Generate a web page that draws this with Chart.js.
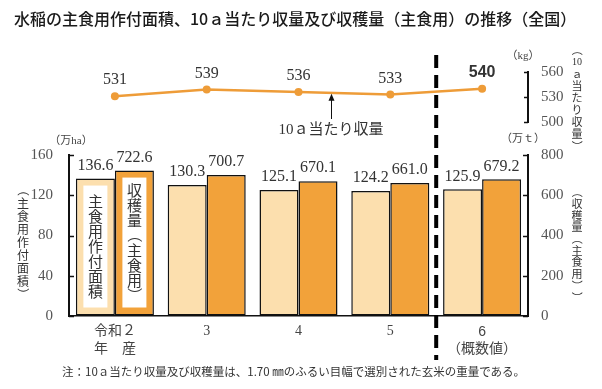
<!DOCTYPE html>
<html lang="ja">
<head>
    <meta charset="UTF-8">
    <title>水稲の主食用作付面積、10ａ当たり収量及び収穫量（主食用）の推移（全国）</title>
    <script src="https://cdn.jsdelivr.net/npm/chart.js"></script>
    <style>
        body { margin: 0; background: #fff; }
        .wrap { position: relative; width: 602px; height: 389px; overflow: hidden; }
        .wrap canvas { position: absolute; left: 0; top: 0; }
        #lineChart { pointer-events: none; }
        h1 {
            position: absolute; left: 14px; top: 6px; margin: 0;
            font: 500 16px "Noto Sans CJK JP"; color: #1a1a1a; white-space: nowrap;
        }
        .note {
            position: absolute; left: 62px; top: 363px;
            font: 11.5px "Noto Sans CJK JP"; color: #333; white-space: nowrap;
        }
    </style>
</head>
<body>
    <div class="wrap">
        <canvas id="barChart" width="602" height="389"></canvas>
        <canvas id="lineChart" width="602" height="389"></canvas>
        <h1>水稲の主食用作付面積、10ａ当たり収量及び収穫量（主食用）の推移（全国）</h1>
        <div class="note">注：10ａ当たり収量及び収穫量は、1.70 ㎜のふるい目幅で選別された玄米の重量である。</div>
    </div>

    <script>
        // data
        const categories = [['令和２', '年　産'], '3', '4', '5', ['6', '（概数値）']];
        const areaValues = [136.6, 130.3, 125.1, 124.2, 125.9];      // 万ha
        const harvestValues = [722.6, 700.7, 670.1, 661.0, 679.2];   // 万t
        const yieldValues = [531, 539, 536, 533, 540];               // kg
        const areaTicks = [0, 40, 80, 120, 160];
        const harvestTicks = [0, 200, 400, 600, 800];
        const yieldTicks = [500, 530, 560];

        const SERIF = '"Liberation Serif", "DejaVu Serif", "Noto Sans CJK JP", serif';
        const SANS = '"Liberation Sans", "Noto Sans CJK JP", sans-serif';
        const JP = '"Noto Sans CJK JP"';

        // draw upright vertical text, one cell per item; '(' and ')' are turned
        function drawVertical(ctx, items, x, yStart, step, size, color) {
            ctx.save();
            ctx.fillStyle = color;
            ctx.textAlign = 'center';
            ctx.textBaseline = 'middle';
            items.forEach((s, i) => {
                const y = yStart + i * step;
                if (s === '(' || s === ')') {
                    ctx.save();
                    ctx.translate(x, y);
                    ctx.rotate(Math.PI / 2);
                    ctx.font = size + 'px ' + JP;
                    ctx.fillText(s === '(' ? '（' : '）', 0, 0);
                    ctx.restore();
                    return;
                }
                ctx.font = /^[0-9]+$/.test(s) ? (size - 1) + 'px ' + SERIF : size + 'px ' + JP;
                ctx.fillText(s, x, y);
            });
            ctx.restore();
        }

        function inwardTicks(ctx, scale, x, dir, len) {
            ctx.save();
            ctx.strokeStyle = '#111';
            ctx.lineWidth = 1.5;
            scale.ticks.forEach(t => {
                const py = Math.round(scale.getPixelForValue(t.value)) + 0.5;
                ctx.beginPath();
                ctx.moveTo(x, py);
                ctx.lineTo(x + dir * len, py);
                ctx.stroke();
            });
            ctx.restore();
        }

        const barDecor = {
            id: 'barDecor',
            afterDraw(chart) {
                const ctx = chart.ctx;
                const area = chart.chartArea;

                inwardTicks(ctx, chart.scales.y, area.left, 1, 5);
                inwardTicks(ctx, chart.scales.y2, area.right, -1, 5);

                // white boxes with labels inside the first group
                const boxTexts = [
                    ['主', '食', '用', '作', '付', '面', '積'],
                    ['収', '穫', '量', '(', '主', '食', '用', ')']
                ];
                [0, 1].forEach(di => {
                    const bar = chart.getDatasetMeta(di).data[0];
                    const top = bar.y + 7;
                    const bottom = bar.base - 8;
                    ctx.fillStyle = '#ffffff';
                    ctx.fillRect(bar.x - 12, top, 24, bottom - top);
                    const items = boxTexts[di];
                    const step = 15;
                    const mid = (top + bottom) / 2;
                    drawVertical(ctx, items, bar.x, mid - (items.length - 1) * step / 2, step, 15, '#333');
                });

                // value labels above bars
                ctx.save();
                ctx.font = '16px ' + SERIF;
                ctx.fillStyle = '#333';
                ctx.textAlign = 'center';
                ctx.textBaseline = 'middle';
                chart.data.datasets.forEach((ds, di) => {
                    chart.getDatasetMeta(di).data.forEach((bar, i) => {
                        ctx.fillText(ds.data[i].toFixed(1), bar.x, bar.y - 13);
                    });
                });
                ctx.restore();

                // units
                ctx.save();
                ctx.font = '11px ' + SERIF;
                ctx.fillStyle = '#444';
                ctx.textAlign = 'center';
                ctx.textBaseline = 'middle';
                ctx.fillText('（万ha）', area.left + 2, 141);
                ctx.fillText('（万ｔ）', area.right - 5, 139);
                ctx.restore();

                // axis titles (vertical)
                drawVertical(ctx, ['(', '主', '食', '用', '作', '付', '面', '積', ')'], 23, 190, 13, 12, '#333');
                drawVertical(ctx, ['(', '収', '穫', '量', '(', '主', '食', '用', ')', ')'], 577, 192, 11.7, 11, '#333');

                // dashed separator before the preliminary year
                const xs = chart.scales.x;
                const sepX = (xs.getPixelForValue(3) + xs.getPixelForValue(4)) / 2;
                ctx.save();
                ctx.strokeStyle = '#000';
                ctx.lineWidth = 4;
                ctx.setLineDash([13, 7]);
                ctx.beginPath();
                ctx.moveTo(sepX, 55);
                ctx.lineTo(sepX, 360);
                ctx.stroke();
                ctx.restore();
            }
        };

        const lineDecor = {
            id: 'lineDecor',
            afterDraw(chart) {
                const ctx = chart.ctx;
                const area = chart.chartArea;
                inwardTicks(ctx, chart.scales.y, area.right, -1, 4);

                // point labels
                const pts = chart.getDatasetMeta(0).data;
                ctx.save();
                ctx.fillStyle = '#333';
                ctx.textAlign = 'center';
                ctx.textBaseline = 'middle';
                pts.forEach((p, i) => {
                    ctx.font = i === pts.length - 1 ? 'bold 16px ' + SANS : '16px ' + SERIF;
                    ctx.fillText(String(yieldValues[i]), p.x, p.y - 16);
                });

                // callout arrow
                const ax = 331;
                const ay = chart.scales.y.getPixelForValue(535);
                ctx.strokeStyle = '#111';
                ctx.fillStyle = '#111';
                ctx.lineWidth = 1;
                ctx.beginPath();
                ctx.moveTo(ax + 0.5, 119);
                ctx.lineTo(ax + 0.5, ay + 6);
                ctx.stroke();
                ctx.beginPath();
                ctx.moveTo(ax + 0.5, ay + 1);
                ctx.lineTo(ax - 2.5, ay + 8);
                ctx.lineTo(ax + 3.5, ay + 8);
                ctx.closePath();
                ctx.fill();
                ctx.fillStyle = '#333';
                ctx.font = '15px ' + SERIF;
                ctx.fillText('10ａ当たり収量', ax, 130);

                // unit
                ctx.font = '11px ' + SERIF;
                ctx.fillStyle = '#444';
                ctx.fillText('（kg）', area.right - 5, 56);
                ctx.restore();

                drawVertical(ctx, ['(', '10', 'ａ', '当', 'た', 'り', '収', '量', ')'], 577, 50, 12, 11, '#333');
            }
        };

        new Chart(document.getElementById('barChart'), {
            type: 'bar',
            data: {
                labels: categories,
                datasets: [
                    {
                        label: '主食用作付面積',
                        data: areaValues,
                        yAxisID: 'y',
                        backgroundColor: '#FCDFAE',
                        borderColor: '#111',
                        borderWidth: 1.5,
                        borderSkipped: false
                    },
                    {
                        label: '収穫量（主食用）',
                        data: harvestValues,
                        yAxisID: 'y2',
                        backgroundColor: '#F2A23A',
                        borderColor: '#111',
                        borderWidth: 1.5,
                        borderSkipped: false
                    }
                ]
            },
            options: {
                responsive: false,
                animation: false,
                devicePixelRatio: 1,
                layout: { padding: { top: 155, left: 0, right: 0, bottom: 0 } },
                categoryPercentage: 0.85,
                barPercentage: 1.0,
                plugins: { legend: { display: false }, tooltip: { enabled: false } },
                scales: {
                    x: {
                        afterFit: s => { s.height = 73; },
                        grid: { drawOnChartArea: false, drawTicks: false },
                        border: { color: '#111', width: 1.5 },
                        ticks: {
                            padding: 7,
                            color: '#444',
                            maxRotation: 0,
                            autoSkip: false,
                            font: c => ({
                                family: c.index === 4 ? SANS : SERIF,
                                size: 14,
                                lineHeight: 1.25
                            })
                        }
                    },
                    y: {
                        position: 'left',
                        min: 0,
                        max: 160,
                        afterFit: s => { s.width = 69; },
                        afterBuildTicks: s => { s.ticks = areaTicks.map(v => ({ value: v })); },
                        grid: { drawOnChartArea: false, drawTicks: false },
                        border: { color: '#111', width: 2 },
                        ticks: { padding: 16, color: '#555', font: { family: SERIF, size: 15 } }
                    },
                    y2: {
                        position: 'right',
                        min: 0,
                        max: 800,
                        afterFit: s => { s.width = 74; },
                        afterBuildTicks: s => { s.ticks = harvestTicks.map(v => ({ value: v })); },
                        grid: { drawOnChartArea: false, drawTicks: false },
                        border: { color: '#111', width: 2 },
                        ticks: { padding: 13, color: '#555', font: { family: SERIF, size: 15 } }
                    }
                }
            },
            plugins: [barDecor]
        });

        new Chart(document.getElementById('lineChart'), {
            type: 'line',
            data: {
                labels: categories,
                datasets: [{
                    label: '10ａ当たり収量',
                    data: yieldValues,
                    borderColor: '#EE9C38',
                    backgroundColor: '#EE9C38',
                    borderWidth: 2.5,
                    pointRadius: 4,
                    pointBackgroundColor: '#EE9C38',
                    pointBorderWidth: 0,
                    tension: 0
                }]
            },
            options: {
                responsive: false,
                animation: false,
                devicePixelRatio: 1,
                layout: { padding: { top: 72, left: 69, right: 0, bottom: 267 } },
                plugins: { legend: { display: false }, tooltip: { enabled: false } },
                scales: {
                    x: { display: false, offset: true },
                    y: {
                        position: 'right',
                        min: 500,
                        max: 560,
                        afterFit: s => { s.width = 74; },
                        afterBuildTicks: s => { s.ticks = yieldTicks.map(v => ({ value: v })); },
                        grid: { drawOnChartArea: false, drawTicks: false },
                        border: { color: '#111', width: 2 },
                        ticks: { padding: 13, color: '#555', font: { family: SERIF, size: 15 } }
                    }
                }
            },
            plugins: [lineDecor]
        });
    </script>
</body>
</html>
